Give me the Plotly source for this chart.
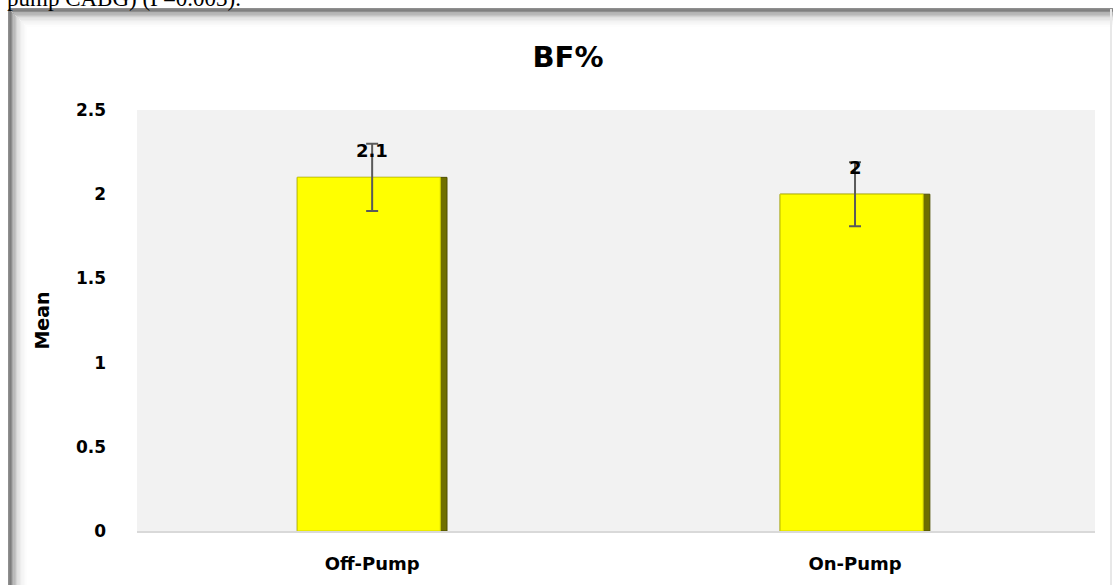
import plotly.graph_objects as go

categories = ["Off-Pump", "On-Pump"]
means = [2.1, 2.0]
errors = [0.2, 0.19]
value_labels = ["2.1", "2"]
chart_title = "BF%"
y_title = "Mean"
y_ticks = [0, 0.5, 1, 1.5, 2, 2.5]
y_tick_labels = ["0", "0.5", "1", "1.5", "2", "2.5"]
caption_fragment = "pump CABG) (P=0.003)."

FONT = "DejaVu Sans"
BAR_W = 0.31
EDGE_W = 0.014  # width of the darker bevel edge on the right

fig = go.Figure()
# dark bevel body
fig.add_trace(go.Bar(
    x=categories, y=means, width=BAR_W,
    marker=dict(color="#6F6F00", line=dict(color="#4F4F00", width=1)),
    showlegend=False, hoverinfo="skip",
))
# bright yellow face
fig.add_trace(go.Bar(
    x=categories, y=means, width=BAR_W - EDGE_W, offset=-BAR_W / 2,
    marker=dict(color="#FFFF00", line=dict(color="#D8D800", width=1)),
    showlegend=False, hoverinfo="skip",
))
# error bars centred on the categories
fig.add_trace(go.Scatter(
    x=categories, y=means, mode="markers", marker=dict(size=1, opacity=0),
    error_y=dict(type="data", array=errors, visible=True, color="#5A5A5A", thickness=2, width=6),
    showlegend=False, hoverinfo="skip",
))

for c, m, t in zip(categories, means, value_labels):
    fig.add_annotation(x=c, y=m, text=f"<b>{t}</b>", showarrow=False, yshift=27,
                       font=dict(family=FONT, size=18, color="#000000"))

# frame of the embedded chart (shadowed border)
L, R, T = 137, 1095, 110
B = 531
def px(xp):
    return (xp - L) / (R - L)
def py(yp):
    return (B - yp) / (B - T)

shades = ["#6A6A6A", "#7A7A7A", "#8E8E8E", "#A2A2A2", "#B4B4B4", "#C4C4C4", "#D2D2D2",
          "#DDDDDD", "#E6E6E6", "#EDEDED", "#F2F2F2", "#F6F6F6", "#F9F9F9", "#FCFCFC"]
for i, col in enumerate(shades):
    off = i * 1.3
    fig.add_shape(type="line", xref="paper", yref="paper", x0=px(9 + off), x1=px(9 + off),
                  y0=py(9 + off), y1=py(600), line=dict(color=col, width=1.5), layer="below")
    fig.add_shape(type="line", xref="paper", yref="paper", x0=px(9 + off), x1=px(1113),
                  y0=py(9 + off), y1=py(9 + off), line=dict(color=col, width=1.5), layer="below")
fig.add_shape(type="line", xref="paper", yref="paper", x0=px(1111), x1=px(1111),
              y0=py(9), y1=py(600), line=dict(color="#E8E8E8", width=2), layer="below")

fig.add_annotation(xref="paper", yref="paper", x=px(5), y=py(-2), xanchor="left", yanchor="middle",
                   text=caption_fragment, showarrow=False,
                   font=dict(family="Liberation Serif", size=23, color="#000000"))

fig.update_layout(
    width=1115, height=585,
    margin=dict(l=L, r=1115 - R, t=T, b=585 - B, autoexpand=False),
    paper_bgcolor="#FFFFFF", plot_bgcolor="#F2F2F2",
    barmode="overlay",
    title=dict(text=f"<b>{chart_title}</b>", x=568 / 1115, xanchor="center", y=1 - 57 / 585, yanchor="middle",
               font=dict(family=FONT, size=29, color="#000000")),
    font=dict(family=FONT, color="#000000"),
)
fig.update_xaxes(range=[-0.487, 1.497], showgrid=False, showline=True, linecolor="#D9D9D9", linewidth=1.5,
                 automargin=False,
                 tickfont=dict(family=FONT, size=18, color="#000000"), ticklabelstandoff=16,
                 tickprefix="<b>", ticksuffix="</b>")
fig.update_yaxes(range=[0, 2.5], tickvals=y_ticks, ticktext=[f"<b>{t}</b>" for t in y_tick_labels],
                 showgrid=False, zeroline=False, showline=False, automargin=False,
                 tickfont=dict(family=FONT, size=17, color="#000000"), ticklabelstandoff=30,
                 title=dict(text=f"<b>{y_title}</b>", font=dict(family=FONT, size=19, color="#000000"), standoff=21))

fig.write_html("out.html", config={"displayModeBar": False},
               post_script="document.body.style.margin='0';document.body.style.overflow='hidden';")
